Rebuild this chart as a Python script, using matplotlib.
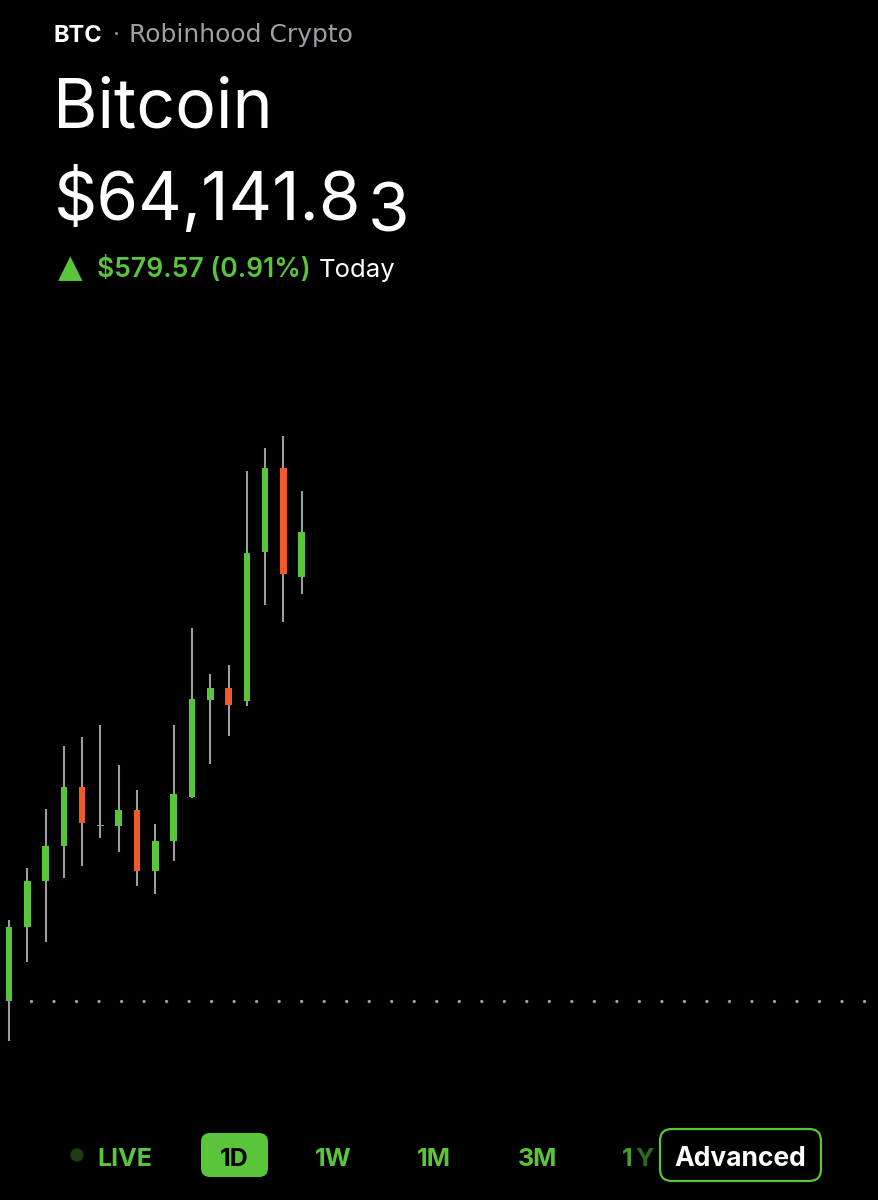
import matplotlib
matplotlib.use("Agg")
import matplotlib.pyplot as plt
from matplotlib.patches import FancyBboxPatch, Ellipse
import numpy as np

plt.rcParams['lines.scale_dashes'] = False

# ---- data ----
opens  = [63562, 63654, 63711, 63754, 63827, 63778, 63779, 63798, 63723, 63760, 63815, 63935, 63949, 63933, 64118, 64222, 64087]
highs  = [63662, 63727, 63800, 63878, 63889, 63904, 63854, 63823, 63781, 63904, 64024, 63967, 63978, 64218, 64247, 64262, 64193]
lows   = [63512, 63610, 63635, 63714, 63729, 63764, 63746, 63704, 63694, 63735, 63813, 63855, 63890, 63927, 64052, 64031, 64066]
closes = [63654, 63711, 63754, 63827, 63782, 63780, 63798, 63723, 63760, 63818, 63936, 63949, 63928, 64117, 64222, 64091, 64142]
prev_close = 63562.26
ticker = "BTC"
source = "Robinhood Crypto"
name = "Bitcoin"
price_main = "$64,141.8"
price_last = "3"
change_text = "$579.57 (0.91%)"
ranges = ["LIVE", "1D", "1W", "1M", "3M", "1Y"]

GREEN = "#5ac53b"
RED = "#f05a28"
WICK = "#9a9ea3"
GRAY = "#9ba0a6"
W, H = 879, 1200

fig = plt.figure(figsize=(W/100, H/100), dpi=100, facecolor="black")

def fy(y):  # top-based pixel -> figure fraction
    return 1 - y / H

# ---- chart axes ----
ax = fig.add_axes([0, fy(1080), 1, 680 / H])
ax.set_facecolor("black")
ax.set_xlim(-0.49, 47.54)
ax.set_ylim(63464, 64306)
ax.axis("off")

idx = np.arange(len(opens))
o = np.array(opens); c = np.array(closes)
colors = [GREEN if cc >= oo else RED for oo, cc in zip(o, c)]
ax.vlines(idx, lows, highs, color=WICK, lw=1.5, zorder=2)
ax.bar(idx, np.abs(c - o), bottom=np.minimum(o, c), width=0.36, color=colors,
       linewidth=0, zorder=3)
ax.hlines(prev_close, 1.2, 47.05, color=GRAY, lw=2.4,
          linestyles=[(0, (0.01, 16.2))], capstyle='round', zorder=1)

# ---- header text ----
FONT = ['Inter', 'DejaVu Sans']
fig.text(54/W, fy(42), ticker, color="white", fontsize=17, fontweight="bold",
         family=FONT, va="baseline")
fig.text(116/W, fy(42), "·", color=GRAY, fontsize=17, family=FONT, va="baseline",
         ha="center")
fig.text(129/W, fy(42), source, color=GRAY, fontsize=18, family=['DejaVu Sans'],
         va="baseline")

fig.text(53/W, fy(128), name, color="white", fontsize=49, family=FONT, va="baseline")

tp = fig.text(54/W, fy(220), price_main, color="white", fontsize=48.5, family=FONT,
              va="baseline")
plt.annotate(price_last, xy=(1, H - 232), xycoords=(tp, 'figure pixels'),
             xytext=(6, 0), textcoords='offset pixels', color="white",
             fontsize=48.5, family=FONT, va="baseline", annotation_clip=False)

fig.text(70/W, fy(277), "▲", color=GREEN, fontsize=23, family=['DejaVu Sans'],
         va="baseline", ha="center")
tc = plt.annotate(change_text, xy=(97, H - 277), xycoords='figure pixels',
                  color=GREEN, fontsize=19, fontweight="semibold", family=FONT,
                  va="baseline", annotation_clip=False)
plt.annotate("Today", xy=(1, H - 277), xycoords=(tc, 'figure pixels'),
             xytext=(8, 0), textcoords='offset pixels', color="white",
             fontsize=18.5, family=FONT, va="baseline", annotation_clip=False)

# ---- bottom range bar ----
tr = fig.dpi_scale_trans
def inch(x, y):
    return (x / 100, (H - y) / 100)

fig.add_artist(Ellipse(inch(77, 1155), 12/100, 12/100, transform=tr,
                       color="#1e3a16", zorder=5))
box1 = FancyBboxPatch(inch(201, 1177), 67/100, 44/100,
                      boxstyle="round,pad=0,rounding_size=0.09", transform=tr,
                      facecolor=GREEN, edgecolor="none", zorder=4)
fig.add_artist(box1)
box2 = FancyBboxPatch(inch(660, 1181), 161/100, 52/100,
                      boxstyle="round,pad=0,rounding_size=0.12", transform=tr,
                      facecolor="black", edgecolor=GREEN, lw=1.6, zorder=4)
fig.add_artist(box2)

BY = fy(1166)
centers = [125, 234, 333, 434, 537]
for lab, cx in zip(ranges[:5], centers):
    col = "black" if lab == "1D" else GREEN
    fig.text(cx/W, BY, lab, color=col, fontsize=18, fontweight="bold", family=FONT,
             ha="center", va="baseline", zorder=6)
fig.text(622/W, BY, ranges[5][0], color=GREEN, fontsize=18, fontweight="bold",
         family=FONT, ha="left", va="baseline", zorder=3, alpha=0.8)
fig.text(635/W, BY, ranges[5][1], color="#2f6a22", fontsize=18, fontweight="bold",
         family=FONT, ha="left", va="baseline", zorder=3)
fig.text(740/W, BY, "Advanced", color="white", fontsize=19, fontweight="bold",
         family=FONT, ha="center", va="baseline", zorder=6)

fig.savefig("out.png", dpi=100, facecolor="black")
